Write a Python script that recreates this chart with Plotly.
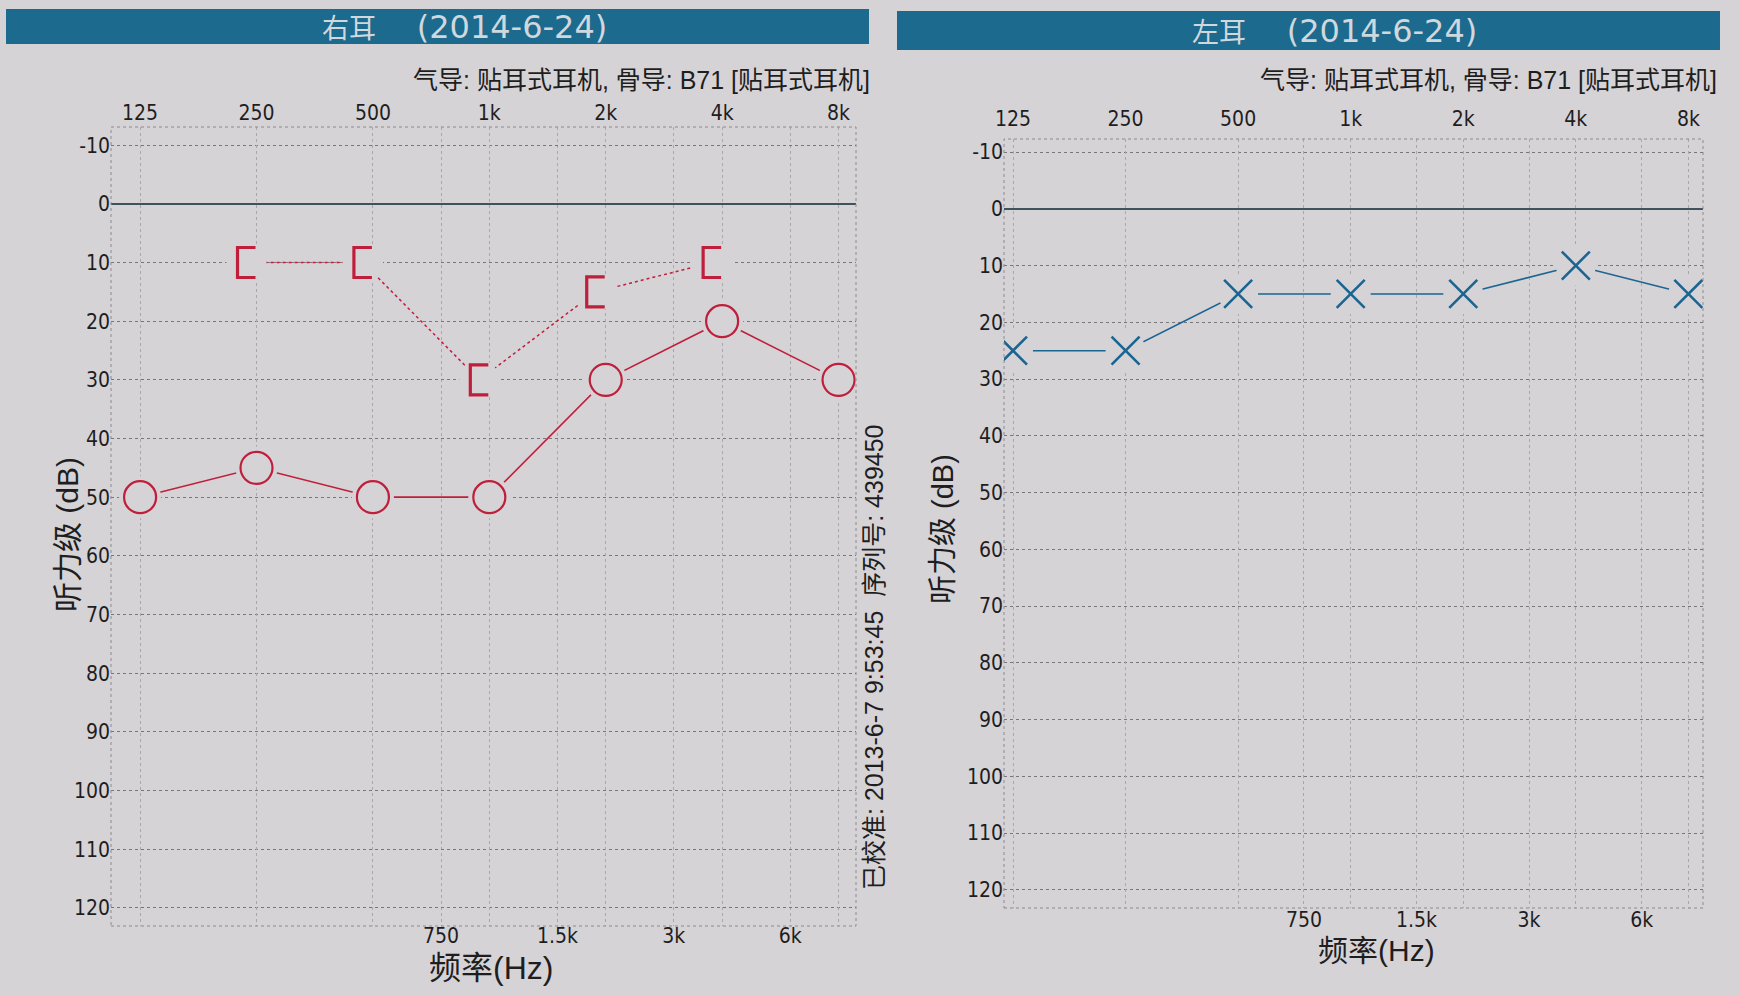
import plotly.graph_objects as go
import math

# ---------------- data ----------------
freqs = [125, 250, 500, 1000, 2000, 4000, 8000]
freq_labels = ["125", "250", "500", "1k", "2k", "4k", "8k"]
mid_freqs = [750, 1500, 3000, 6000]
mid_labels = ["750", "1.5k", "3k", "6k"]
db_ticks = list(range(-10, 121, 10))
db_labels = [str(v) for v in db_ticks]

right_air = [50, 45, 50, 50, 30, 20, 30]          # 右耳 气导 (O)
right_bone_freqs = [250, 500, 1000, 2000, 4000]
right_bone = [10, 10, 30, 15, 10]                 # 右耳 骨导 ([)
left_air = [25, 25, 15, 15, 15, 10, 15]           # 左耳 气导 (X)

title_right_cjk, title_left_cjk = "右耳", "左耳"
title_date = "(2014-6-24)"
subtitle = "气导: 贴耳式耳机, 骨导: B71 [贴耳式耳机]"
calib = "已校准: 2013-6-7 9:53:45  序列号: 439450"

# ---------------- style ----------------
BG = "#d6d3d7"
RED = "#bf1f3a"
BLUE = "#1a6591"
BAR = "#1c6a8d"
TXT = "#1e1e1e"
TICKFONT = dict(family="DejaVu Sans Condensed, DejaVu Sans", size=21, color=TXT)
MIX = "Liberation Sans, Noto Sans CJK SC"
W, H = 1740, 995


def lg(octaves_from_125):
    return math.log10(125) + octaves_from_125 * math.log10(2)


# plot geometry (pixels of the page)
LX0, LX1, LY0, LY1 = 111, 856, 127, 926
RX0, RX1, RY0, RY1 = 1004, 1703, 139, 908
Lrange = [lg(-0.25), lg(6.15)]
Rrange = [lg(-0.08), lg(6.13)]
Lyrange = [123.1, -13.1]
Ryrange = [123.2, -12.3]

# scale factors: data units per pixel on the left panel (used for the bracket glyph shape)
kx = (Lrange[1] - Lrange[0]) / (LX1 - LX0)
ky = (Lyrange[0] - Lyrange[1]) / (LY1 - LY0)

# bone-conduction "[" symbol built from each data point
bx, by = [], []
for f, v in zip(right_bone_freqs, right_bone):
    xr = f * 10 ** (-1 * kx)
    xl = f * 10 ** (-19 * kx)
    bx += [xr, xl, xl, xr, None]
    by += [v - 15 * ky, v - 15 * ky, v + 15 * ky, v + 15 * ky, None]
bone_centre_x = [f * 10 ** (-10 * kx) for f in right_bone_freqs]

fig = go.Figure()

# ---- left panel (右耳) ----
fig.add_trace(go.Scatter(x=bone_centre_x, y=right_bone, mode="lines",
                         line=dict(color=RED, width=1.5, dash="dot"),
                         xaxis="x", yaxis="y", hoverinfo="skip"))
fig.add_trace(go.Scatter(x=bone_centre_x, y=right_bone, mode="markers",
                         marker=dict(symbol="circle", size=40, color=BG),
                         xaxis="x", yaxis="y", hoverinfo="skip"))
fig.add_trace(go.Scatter(x=bx, y=by, mode="lines",
                         line=dict(color=RED, width=3.2), connectgaps=False,
                         xaxis="x", yaxis="y", hoverinfo="skip"))
fig.add_trace(go.Scatter(x=freqs, y=right_air, mode="lines",
                         line=dict(color=RED, width=1.6),
                         xaxis="x", yaxis="y", hoverinfo="skip"))
fig.add_trace(go.Scatter(x=freqs, y=right_air, mode="markers",
                         marker=dict(symbol="circle", size=42, color=BG),
                         xaxis="x", yaxis="y", hoverinfo="skip"))
fig.add_trace(go.Scatter(x=freqs, y=right_air, mode="markers",
                         marker=dict(symbol="circle-open", size=32, color=RED, line=dict(width=2.2, color=RED)),
                         xaxis="x", yaxis="y"))
# invisible carrier so the top frequency axis is drawn
fig.add_trace(go.Scatter(x=freqs, y=right_air, mode="markers", marker=dict(opacity=0),
                         xaxis="x2", yaxis="y", hoverinfo="skip"))

# ---- right panel (左耳) ----
fig.add_trace(go.Scatter(x=freqs, y=left_air, mode="lines",
                         line=dict(color=BLUE, width=1.6),
                         xaxis="x3", yaxis="y2", hoverinfo="skip"))
fig.add_trace(go.Scatter(x=freqs, y=left_air, mode="markers",
                         marker=dict(symbol="circle", size=40, color=BG),
                         xaxis="x3", yaxis="y2", hoverinfo="skip"))
fig.add_trace(go.Scatter(x=freqs, y=left_air, mode="markers",
                         marker=dict(symbol="x-thin-open", size=28, color=BLUE, line=dict(width=2.6, color=BLUE)),
                         xaxis="x3", yaxis="y2"))
fig.add_trace(go.Scatter(x=freqs, y=left_air, mode="markers", marker=dict(opacity=0),
                         xaxis="x4", yaxis="y2", hoverinfo="skip"))

# ---- axes ----
Ldom_x = [LX0 / W, LX1 / W]
Ldom_y = [1 - LY1 / H, 1 - LY0 / H]
Rdom_x = [RX0 / W, RX1 / W]
Rdom_y = [1 - RY1 / H, 1 - RY0 / H]

grid_v = dict(showgrid=True, gridcolor="#a9a7ad", gridwidth=1, griddash="dot",
              zeroline=False, showline=False, ticks="", tickfont=TICKFONT, automargin=False)
grid_h = dict(tickvals=db_ticks, ticktext=db_labels, showgrid=True, gridcolor="#78767c",
              griddash="dot", gridwidth=1, zeroline=True, zerolinecolor="#3e535c",
              zerolinewidth=1.6, showline=False, ticks="", tickfont=TICKFONT, automargin=False)

fig.update_layout(
    xaxis=dict(type="log", domain=Ldom_x, range=Lrange, anchor="y",
               tickvals=mid_freqs, ticktext=mid_labels, ticklabelstandoff=-5, **grid_v),
    xaxis2=dict(type="log", domain=Ldom_x, range=Lrange, anchor="y", overlaying="x",
                side="top", tickvals=freqs, ticktext=freq_labels, ticklabelstandoff=2, **grid_v),
    yaxis=dict(domain=Ldom_y, range=Lyrange, anchor="x", **grid_h),
    xaxis3=dict(type="log", domain=Rdom_x, range=Rrange, anchor="y2",
                tickvals=mid_freqs, ticktext=mid_labels, ticklabelstandoff=-3, **grid_v),
    xaxis4=dict(type="log", domain=Rdom_x, range=Rrange, anchor="y2", overlaying="x3",
                side="top", tickvals=freqs, ticktext=freq_labels, ticklabelstandoff=8, **grid_v),
    yaxis2=dict(domain=Rdom_y, range=Ryrange, anchor="x3", **grid_h),
)

# dotted plot frames
for xr, yr in (("x domain", "y domain"), ("x3 domain", "y2 domain")):
    fig.add_shape(type="rect", xref=xr, yref=yr, x0=0, x1=1, y0=0, y1=1,
                  line=dict(color="#8c8a90", width=1, dash="dot"), layer="above")

# title bars
fig.add_shape(type="rect", xref="paper", yref="paper", x0=6 / W, x1=869 / W,
              y0=1 - 44 / H, y1=1 - 9 / H, fillcolor=BAR, line=dict(width=0), layer="below")
fig.add_shape(type="rect", xref="paper", yref="paper", x0=897 / W, x1=1720 / W,
              y0=1 - 50 / H, y1=1 - 11 / H, fillcolor=BAR, line=dict(width=0), layer="below")

TITLEFONT = dict(family="DejaVu Sans, Noto Sans CJK SC", size=32, color="#d0d8de")


def title_text(cjk):
    return '<span style="font-size:27px">' + cjk + '</span>    ' + title_date


ann = []
ann.append(dict(x=465 / W, y=1 - 27 / H, text=title_text(title_right_cjk), font=TITLEFONT))
ann.append(dict(x=1334 / W, y=1 - 31 / H, text=title_text(title_left_cjk), font=TITLEFONT))
ann.append(dict(x=872 / W, y=1 - 80 / H, text=subtitle, xanchor="right",
                font=dict(family=MIX, size=25, color=TXT)))
ann.append(dict(x=1719 / W, y=1 - 80 / H, text=subtitle, xanchor="right",
                font=dict(family=MIX, size=25, color=TXT)))
ann.append(dict(x=491 / W, y=1 - 968 / H, text="频率(Hz)", font=dict(family=MIX, size=32, color=TXT)))
ann.append(dict(x=1376 / W, y=1 - 950 / H, text="频率(Hz)", font=dict(family=MIX, size=30, color=TXT)))
ann.append(dict(x=67 / W, y=1 - 535 / H, text="听力级 (dB)", textangle=-90,
                font=dict(family=MIX, size=30, color=TXT)))
ann.append(dict(x=943 / W, y=1 - 529 / H, text="听力级 (dB)", textangle=-90,
                font=dict(family=MIX, size=29, color=TXT)))
ann.append(dict(x=874 / W, y=1 - 657 / H, text=calib, textangle=-90,
                font=dict(family=MIX, size=25, color=TXT)))
for a in ann:
    a.update(xref="paper", yref="paper", showarrow=False)
    a.setdefault("xanchor", "center")
    a.setdefault("yanchor", "middle")

fig.update_layout(
    annotations=ann,
    width=W, height=H,
    margin=dict(l=0, r=0, t=0, b=0, autoexpand=False),
    paper_bgcolor=BG, plot_bgcolor=BG,
    showlegend=False,
)

fig.write_html("out.html")
